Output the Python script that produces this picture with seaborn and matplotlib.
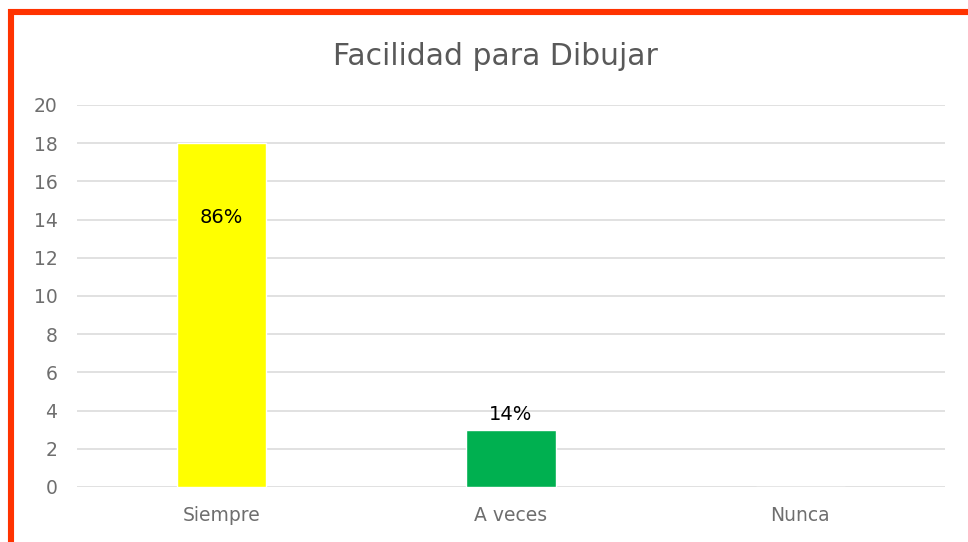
import matplotlib
matplotlib.use("Agg")
import matplotlib.pyplot as plt
from matplotlib.patches import Rectangle
import seaborn as sns
import pandas as pd

categories = ["Siempre", "A veces", "Nunca"]
counts = [18, 3, 0]
percent_labels = ["86%", "14%", ""]
bar_colors = ["#FFFF00", "#00B050", "#A5A5A5"]
y_ticks = list(range(0, 21, 2))

sns.set_theme(style="white")
plt.rcParams["font.family"] = ["DejaVu Sans"]

df = pd.DataFrame({"categoria": categories, "n": counts})

fig = plt.figure(figsize=(9.68, 5.42), dpi=100)
ax = fig.add_axes([0.0795, 0.1015, 0.8968, 0.7048])

sns.barplot(data=df, x="categoria", y="n", hue="categoria",
            palette=bar_colors, width=0.31, legend=False, ax=ax,
            saturation=1, zorder=3)

ax.set_ylim(0, 20)
ax.set_xlim(-0.5, 2.5)
ax.set_yticks(y_ticks)
ax.yaxis.grid(True, color="#D9D9D9", linewidth=1.1, zorder=0)
ax.set_axisbelow(True)
for s in ax.spines.values():
    s.set_visible(False)
ax.tick_params(axis="both", length=0, colors="#6E6E6E", labelsize=13.5)
ax.tick_params(axis="y", pad=14)
ax.tick_params(axis="x", pad=14)
ax.set_xlabel("")
ax.set_ylabel("")

# value labels: first sits inside the tall bar, the short one above its bar
ax.annotate(percent_labels[0], xy=(0, counts[0]), xytext=(0, -74),
            textcoords="offset pixels", ha="center", va="center",
            fontsize=14, color="black")
ax.annotate(percent_labels[1], xy=(1, counts[1]), xytext=(0, 15),
            textcoords="offset pixels", ha="center", va="center",
            fontsize=14, color="black")

fig.text(0.512, 0.895, "Facilidad para Dibujar", ha="center", va="center",
         fontsize=21.5, color="#595959")

# frame around the chart
fig.patches.append(Rectangle((11 / 968, -0.1), 1.2, (1 - 12 / 542) + 0.1,
                             transform=fig.transFigure, fill=False,
                             edgecolor="#FF3300", linewidth=4.4))

fig.savefig("out.png", dpi=100, facecolor="white")
